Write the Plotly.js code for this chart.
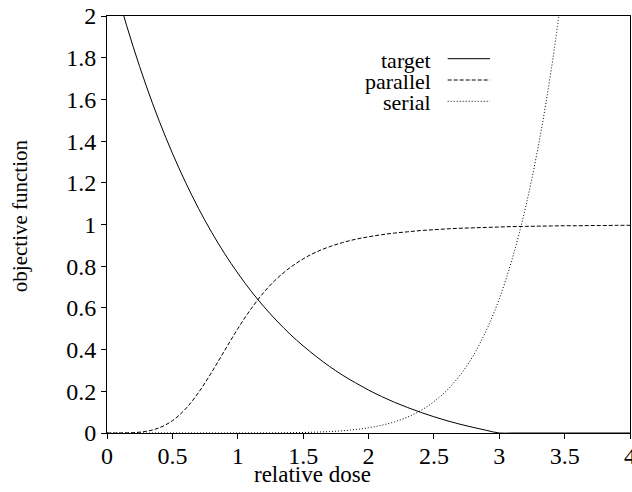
<!DOCTYPE html>
<html>
<head>
<meta charset="utf-8">
<script src="https://cdn.plot.ly/plotly-3.0.1.min.js"></script>
<style>html,body{margin:0;padding:0;background:#fff;}#chart{width:632px;height:492px;}</style>
</head>
<body>
<div id="chart"></div>
<script>
// relative dose grid (x values)
const dose = [0.0,0.1,0.2,0.3,0.4,0.5,0.6,0.7,0.8,0.9,
              1.0,1.1,1.2,1.3,1.4,1.5,1.6,1.7,1.8,1.9,
              2.0,2.1,2.2,2.3,2.4,2.5,2.6,2.7,2.8,2.9,
              3.0,3.1,3.2,3.3,3.4,3.5,3.6,3.7,3.8,3.9,4.0];
// objective function values
const target = [2.290,2.061,1.853,1.665,1.495,1.342,1.203,1.077,0.963,0.860,
                0.767,0.682,0.606,0.537,0.474,0.418,0.367,0.320,0.278,0.241,
                0.206,0.175,0.147,0.122,0.099,0.078,0.059,0.042,0.027,0.013,
                0,0,0,0,0,0,0,0,0,0,0];
const parallel = [0,0.0001,0.0016,0.008,0.025,0.059,0.115,0.194,0.291,0.396,
                  0.500,0.594,0.675,0.741,0.793,0.835,0.868,0.893,0.913,0.929,
                  0.941,0.951,0.959,0.965,0.971,0.975,0.979,0.982,0.984,0.986,
                  0.988,0.990,0.991,0.992,0.993,0.994,0.994,0.995,0.995,0.996,0.996];
const serial = [0,0,0,0,0,0,0,0,0,0,
                0.0001,0.0002,0.0004,0.0008,0.0014,0.0025,0.0042,0.0068,0.0108,0.0166,
                0.0251,0.0371,0.0538,0.0768,0.108,0.150,0.205,0.277,0.370,0.491,
                0.643,0.837,1.079,1.380,1.752,2.210,null,null,null,null,null];
const seriesNames = ["target","parallel","serial"];
const xTickVals = [0,0.5,1,1.5,2,2.5,3,3.5,4];
const yTickVals = [0,0.2,0.4,0.6,0.8,1,1.2,1.4,1.6,1.8,2];

const FONT = "Liberation Serif";
const dashes = ["solid","4px,2px","1px,2px"];
const ys = [target, parallel, serial];

const traces = ys.map((y,i)=>({
  x: dose, y: y, type: "scatter", mode: "lines", name: seriesNames[i],
  line: {color: "#000", width: 1, dash: dashes[i], shape: "spline", smoothing: 1},
  connectgaps: false, showlegend: false, hoverinfo: "skip"
}));

// legend in gnuplot style: text on the left, sample on the right
const legX = 0.6233, sampleX0 = 0.6514, sampleX1 = 0.7323;
const legY = [0.8976, 0.8465, 0.7954];
const annotations = seriesNames.map((n,i)=>({
  text: n, xref: "paper", yref: "paper", x: legX, y: legY[i] - 0.004,
  xanchor: "right", yanchor: "middle", showarrow: false,
  font: {family: FONT, size: 22, color: "#000"}
}));
annotations.push({
  text: "relative dose", xref: "paper", yref: "paper", x: 0.393, y: -0.1,
  xanchor: "center", yanchor: "middle", showarrow: false,
  font: {family: FONT, size: 23, color: "#000"}
});
annotations.push({
  text: "objective function", xref: "paper", yref: "paper", x: -0.1663, y: 0.52,
  xanchor: "center", yanchor: "middle", showarrow: false, textangle: -90,
  font: {family: FONT, size: 21, color: "#000"}
});
const shapes = seriesNames.map((n,i)=>({
  type: "line", xref: "paper", yref: "paper",
  x0: sampleX0, x1: sampleX1, y0: legY[i], y1: legY[i],
  line: {color: "#000", width: 1, dash: dashes[i]}
}));

const layout = {
  width: 632, height: 492,
  margin: {l: 107, r: 2, t: 16, b: 59, pad: 0},
  paper_bgcolor: "#fff", plot_bgcolor: "#fff",
  font: {family: FONT, size: 23, color: "#000"},
  xaxis: {
    range: [0,4], tickmode: "array", tickvals: xTickVals,
    ticks: "outside", ticklen: 5, tickwidth: 1, tickcolor: "#000",
    showline: true, linecolor: "#000", linewidth: 1, mirror: true,
    showgrid: false, zeroline: false, ticklabeloverflow: "allow",
    ticklabelstandoff: -4,
    tickfont: {family: FONT, size: 24, color: "#000"}
  },
  yaxis: {
    range: [0,2], tickmode: "array", tickvals: yTickVals,
    ticks: "outside", ticklen: 5, tickwidth: 1, tickcolor: "#000",
    showline: true, linecolor: "#000", linewidth: 1, mirror: true,
    showgrid: false, zeroline: false, ticklabeloverflow: "allow",
    tickfont: {family: FONT, size: 24, color: "#000"}
  },
  annotations: annotations,
  shapes: shapes,
  showlegend: false
};

Plotly.newPlot("chart", traces, layout, {staticPlot: true, displayModeBar: false});
</script>
</body>
</html>
